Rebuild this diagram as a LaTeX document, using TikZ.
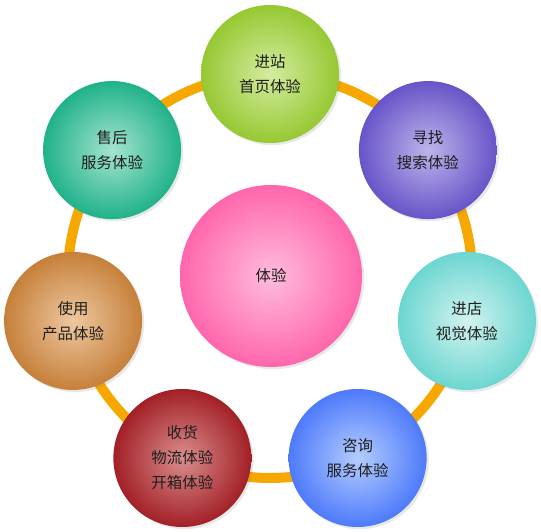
\documentclass[tikz,border=0pt]{standalone}
\usepackage{fontspec}
\setmainfont{Noto Sans CJK SC}
\usetikzlibrary{shadows,backgrounds}

\definecolor{ringorange}{RGB}{247,168,0}
\definecolor{textdark}{RGB}{30,30,30}

\tikzset{
  stage/.style={circle, inner sep=0pt, minimum size=103.5pt, align=center,
    text=textdark, font=\fontsize{11.6pt}{18.8pt}\selectfont,
    drop shadow={shadow xshift=1.6pt, shadow yshift=-1.6pt, opacity=0.18}},
  core/.style={stage, minimum size=136.5pt},
  ring/.style={ringorange, line width=7.5pt, bend left=25.7, looseness=0.9}
}

\begin{document}
\begin{tikzpicture}[x=0.75pt, y=0.75pt]
        \useasboundingbox (-270,-255) rectangle (271,276);

        % Core
        \node[core, inner color={rgb,255:red,255;green,188;blue,222}, outer color={rgb,255:red,255;green,102;blue,172}] (Core) at (1,0) {体验};

        % Stages round the ring
        \node[stage, inner color={rgb,255:red,212;green,236;blue,160}, outer color={rgb,255:red,150;green,200;blue,50}] (Entry) at (90:202) {进站\\首页体验};
        \node[stage, inner color={rgb,255:red,190;green,180;blue,235}, outer color={rgb,255:red,104;green,84;blue,200}] (Search) at (38.57:202) {寻找\\搜索体验};
        \node[stage, inner color={rgb,255:red,210;green,243;blue,240}, outer color={rgb,255:red,108;green,214;blue,208}] (Store) at (-12.86:202) {进店\\视觉体验};
        \node[stage, inner color={rgb,255:red,180;green,205;blue,255}, outer color={rgb,255:red,78;green,122;blue,250}] (Consult) at (-64.29:202) {咨询\\服务体验};
        \node[stage, inner color={rgb,255:red,218;green,142;blue,142}, outer color={rgb,255:red,162;green,32;blue,38}] (Delivery) at (-115.71:202) {收货\\物流体验\\开箱体验};
        \node[stage, inner color={rgb,255:red,238;green,200;blue,160}, outer color={rgb,255:red,198;green,128;blue,58}] (Usage) at (-167.14:202) {使用\\产品体验};
        \node[stage, inner color={rgb,255:red,165;green,228;blue,208}, outer color={rgb,255:red,32;green,178;blue,138}] (AfterSale) at (141.43:202) {售后\\服务体验};

        % Ring, behind the stages
        \begin{pgfonlayer}{background}
            \draw[ring] (Entry.center) to (Search.center);
            \draw[ring] (Search.center) to (Store.center);
            \draw[ring] (Store.center) to (Consult.center);
            \draw[ring] (Consult.center) to (Delivery.center);
            \draw[ring] (Delivery.center) to (Usage.center);
            \draw[ring] (Usage.center) to (AfterSale.center);
            \draw[ring] (AfterSale.center) to (Entry.center);
        \end{pgfonlayer}
    \end{tikzpicture}
\end{document}
